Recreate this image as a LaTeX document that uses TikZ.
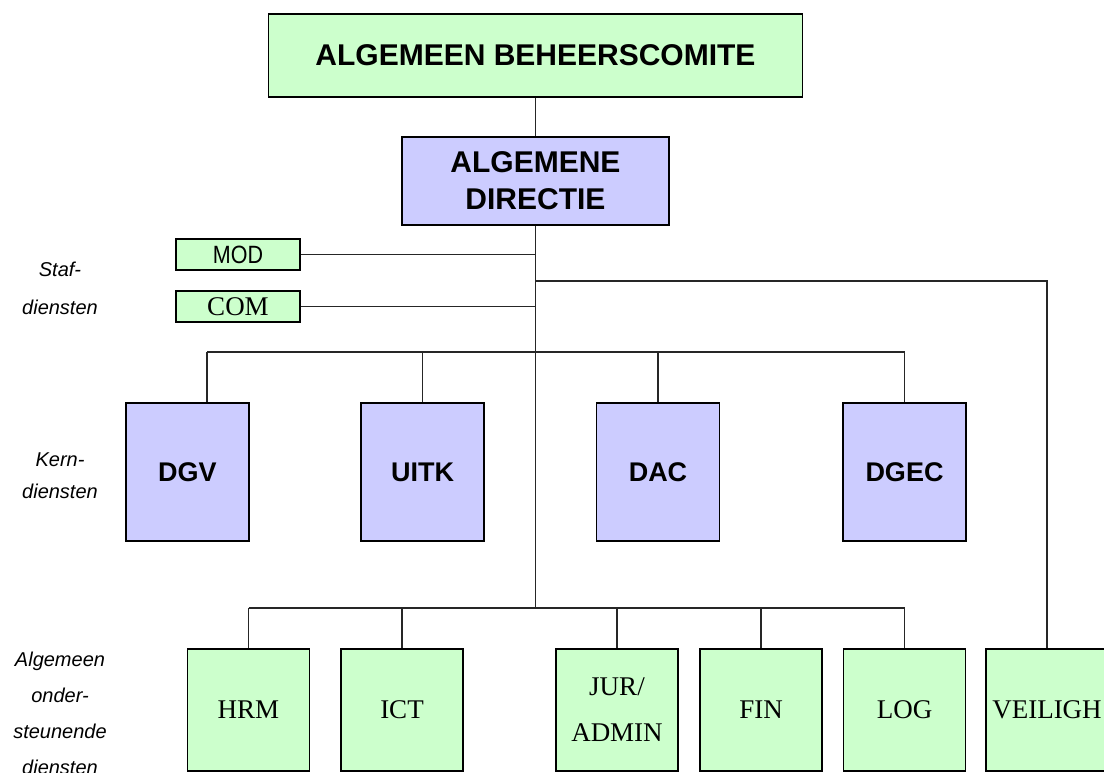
\documentclass[tikz,border=0pt]{standalone}
\usepackage{fontspec}
\setmainfont{Liberation Serif}
\setsansfont{Liberation Sans}
\newfontfamily\narrowsans{Liberation Sans}[FakeStretch=0.86]
\usepackage{xcolor}
\usepackage{tikz}

\definecolor{paleGreen}{HTML}{CCFFCC}
\definecolor{paleBlue}{HTML}{CCCCFF}

\begin{document}
\begin{tikzpicture}[x=1pt, y=-1pt,
    box/.style={draw=black, line width=1.3pt, inner sep=0pt, align=center},
    greenbox/.style={box, fill=paleGreen},
    bluebox/.style={box, fill=paleBlue},
    wire/.style={draw=black!85, line width=1.1pt},
    sidelabel/.style={align=center, font=\sffamily\itshape\fontsize{20}{36}\selectfont}]

      % --- frame of the page, the VEILIGH box runs past the right edge ---
      \useasboundingbox (0,0) rectangle (1104,773);
      \clip (0,0) rectangle (1104,773);

      % --- top of the chart ---
      \node[greenbox, minimum width=534, minimum height=83,
            font=\sffamily\bfseries\fontsize{30}{36}\selectfont] (abc) at (535.5, 55.5) {ALGEMEEN BEHEERSCOMITE};
      \node[bluebox, minimum width=267, minimum height=88,
            font=\sffamily\bfseries\fontsize{30}{37}\selectfont] (ad) at (535.5, 181) {ALGEMENE\\DIRECTIE};

      % --- staff boxes, left of the spine ---
      \node[greenbox, minimum width=124, minimum height=31,
            font=\narrowsans\fontsize{25}{30}\selectfont] (mod) at (238, 254.5) {MOD};
      \node[greenbox, minimum width=124, minimum height=31,
            font=\fontsize{27}{30}\selectfont] (com) at (238, 306.5) {COM};

      % --- core services ---
      \foreach \name/\txt/\xc in {dgv/DGV/187.5, uitk/UITK/422.5, dac/DAC/658, dgec/DGEC/904.5}
        \node[bluebox, minimum width=123, minimum height=138,
              font=\sffamily\bfseries\fontsize{27}{30}\selectfont] (\name) at (\xc, 472) {\txt};

      % --- support services (serif, like the staff COM box) ---
      \foreach \name/\txt/\xc in {hrm/HRM/248.5, ict/ICT/402, jur/{JUR/\\ADMIN}/617,
                                  fin/FIN/761, log/LOG/904.5, veiligh/VEILIGH/1047}
        \node[greenbox, minimum width=122, minimum height=122,
              font=\fontsize{27}{46}\selectfont] (\name) at (\xc, 710) {\txt};

      % --- row labels on the left ---
      \node[sidelabel, font=\sffamily\itshape\fontsize{20}{38}\selectfont] (staflbl) at (60, 288) {Staf-\\diensten};
      \node[sidelabel, font=\sffamily\itshape\fontsize{20}{32}\selectfont] (kernlbl) at (60, 476) {Kern-\\diensten};
      \node[sidelabel] (steunlbl) at (60, 713) {Algemeen\\onder-\\steunende\\diensten};

      % --- bus points on the spine ---
      \coordinate (veilbus) at (535.5, 281);
      \coordinate (kernbus) at (535.5, 352);
      \coordinate (steunbus) at (535.5, 608);

      % --- spine ---
      \draw[wire] (abc.south) -- (ad.north);
      \draw[wire] (ad.south) -- (steunbus);

      % --- staff links and the VEILIGH branch ---
      \draw[wire] (mod.east) -- (mod.east -| ad.south);
      \draw[wire] (com.east) -- (com.east -| ad.south);
      \draw[wire] (veilbus) -| (veiligh.north);

      % --- core bus (DGV drop sits right of its box centre) ---
      \coordinate (dgvdrop) at ([xshift=19.5]dgv.north);
      \draw[wire] (dgvdrop |- kernbus) -- (dgec.north |- kernbus);
      \draw[wire] (dgvdrop |- kernbus) -- (dgvdrop);
      \foreach \name in {uitk, dac, dgec}
        \draw[wire] (\name.north |- kernbus) -- (\name.north);

      % --- support bus ---
      \draw[wire] (hrm.north |- steunbus) -- (log.north |- steunbus);
      \foreach \name in {hrm, ict, jur, fin, log}
        \draw[wire] (\name.north |- steunbus) -- (\name.north);
    \end{tikzpicture}
\end{document}
